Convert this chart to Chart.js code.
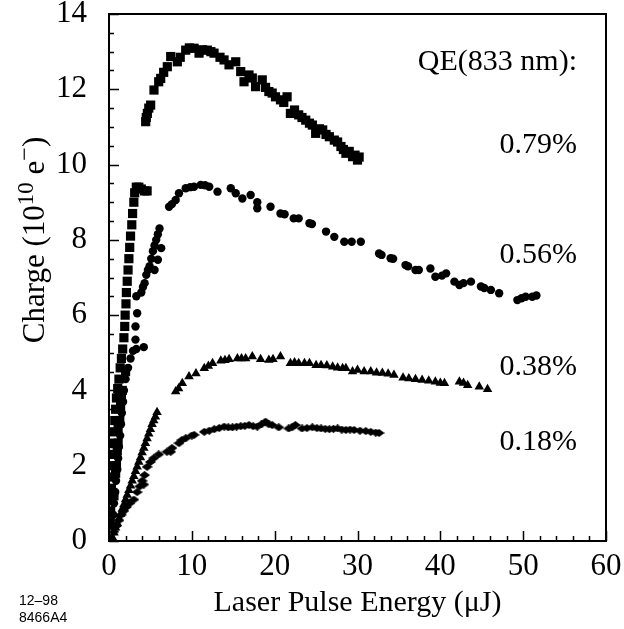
<!DOCTYPE html>
<html>
<head>
<meta charset="utf-8">
<script src="https://cdn.jsdelivr.net/npm/chart.js@4.4.1/dist/chart.umd.min.js"></script>
<style>
  html, body { margin: 0; padding: 0; background: #ffffff; }
  #wrap { width: 624px; height: 629px; position: relative; }
</style>
</head>
<body>
<div id="wrap"><canvas id="c" width="624" height="629"></canvas></div>
<script>
// ---------- data ----------
const xTickLabels = [0, 10, 20, 30, 40, 50, 60];
const yTickLabels = [0, 2, 4, 6, 8, 10, 12, 14];

// QE = 0.79 %  (squares)
const sqX = [0.15,0.2,0.25,0.3,0.35,0.4,0.5,0.55,0.65,0.7,0.8,0.9,1.05,1.2,1.35,1.5,1.65,1.8,1.9,1.95,2.05,2.1,2.2,2.3,2.4,2.5,2.6,2.75,2.85,3.0,3.1,3.3,3.6,3.9,4.3,4.6,
  0.6,0.8,1.0,1.1,1.4,1.6,2.0,0.9,1.1,1.3,1.5,1.2,
  4.43,4.5,4.63,4.8,5.03,5.43,6.0,6.24,6.6,7.04,7.45,8.25,8.6,9.26,9.7,10.27,10.87,11.3,11.87,12.3,12.68,13.4,13.89,14.49,15.3,15.9,16.3,16.9,17.3,17.7,18.5,18.9,19.3,19.7,20.1,20.7,21.1,21.5,21.9,22.4,22.9,23.3,23.75,24.2,24.55,24.95,25.4,25.8,26.2,26.6,27.2,27.6,28.0,28.3,28.6,29.0,29.4,29.7,30.0,30.2];
const sqY = [0.5,0.8,1.1,1.4,1.7,2.0,2.3,2.6,2.9,3.2,3.5,3.8,4.05,4.3,4.6,4.85,5.1,5.4,5.7,6.0,6.3,6.6,6.9,7.2,7.5,7.8,8.1,8.4,8.7,9.0,9.25,9.4,9.4,9.35,9.3,9.3,
  1.2,1.8,2.4,3.0,3.6,4.0,4.5,2.0,2.6,3.2,3.8,3.9,
  11.14,11.25,11.36,11.5,11.58,11.98,12.2,12.29,12.45,12.6,12.87,12.73,12.85,13.04,13.1,13.09,12.96,13.05,13.04,13.0,12.96,12.85,12.78,12.65,12.73,12.47,12.2,12.38,12.3,12.07,12.25,12.05,11.94,11.9,11.8,11.72,11.65,11.8,11.36,11.45,11.32,11.25,11.18,11.1,11.05,10.83,10.95,10.92,10.8,10.74,10.65,10.6,10.48,10.4,10.3,10.35,10.21,10.25,10.12,10.2];

// QE = 0.56 %  (circles)
const ciX = [0.4,0.5,0.6,0.75,0.85,1.0,1.1,1.2,1.35,1.45,1.55,1.7,1.8,2.0,2.3,2.6,2.9,3.3,4.2,3.2,3.2,3.4,3.3,
  3.9,4.1,4.3,4.5,4.7,4.9,5.1,5.3,5.5,5.7,5.9,6.1,5.5,5.9,6.3,
  7.25,7.6,8.05,8.45,9.26,9.8,10.27,11.07,11.6,12.1,13.1,14.7,15.3,16.1,17.1,17.9,17.9,19.5,20.7,21.2,22.3,22.9,24.2,24.5,26.2,27.2,28.4,29.3,30.4,32.6,32.9,34.0,34.3,35.8,36.1,37.0,37.4,38.8,39.4,40.2,40.7,41.7,42.3,42.8,43.7,44.9,45.3,46.1,47.1,49.3,49.8,50.3,51.1,51.6];
const ciY = [0.4,0.7,1.0,1.3,1.6,1.9,2.2,2.5,2.8,3.1,3.4,3.7,4.0,4.3,4.6,4.85,5.05,5.1,5.15,5.35,5.7,6.05,6.5,
  6.6,6.75,6.85,7.07,7.2,7.3,7.5,7.7,7.85,8.0,8.15,8.3,7.2,7.47,7.78,
  8.88,8.95,9.06,9.24,9.37,9.4,9.41,9.46,9.45,9.41,9.28,9.37,9.24,9.1,9.19,9.0,8.84,8.88,8.7,8.68,8.57,8.57,8.44,8.42,8.22,8.08,7.95,7.95,7.95,7.64,7.6,7.51,7.5,7.33,7.3,7.2,7.2,7.24,7.02,7.05,7.11,6.89,6.8,6.85,6.89,6.76,6.72,6.67,6.58,6.4,6.45,6.49,6.49,6.52];

// QE = 0.38 %  (triangles)
const trX = [0.4,0.6,0.8,1.0,1.2,1.4,1.6,1.8,2.0,2.2,2.4,2.6,2.8,3.0,3.2,3.4,3.6,3.8,4.0,4.2,4.4,4.6,4.8,5.0,5.2,5.4,5.6,5.8,
  8.05,8.4,8.85,9.66,10.5,11.5,12.0,12.5,13.5,14.0,14.5,15.5,16.0,16.5,17.3,18.3,19.3,19.8,20.7,21.9,22.4,22.9,23.6,24.2,25.0,25.6,26.3,27.0,27.6,28.2,28.6,29.4,30.0,30.8,31.6,32.3,33.0,33.7,34.4,35.5,36.2,37.0,37.8,38.6,39.4,40.0,40.5,42.3,42.8,43.3,44.7,45.7];
const trY = [0.1,0.22,0.35,0.47,0.6,0.72,0.85,0.97,1.1,1.22,1.35,1.47,1.6,1.72,1.85,1.97,2.1,2.22,2.35,2.47,2.6,2.72,2.85,2.97,3.1,3.2,3.3,3.42,
  3.97,4.05,4.19,4.37,4.45,4.59,4.65,4.72,4.79,4.8,4.83,4.85,4.85,4.85,4.9,4.83,4.81,4.83,4.9,4.72,4.74,4.72,4.72,4.72,4.67,4.67,4.66,4.63,4.6,4.59,4.59,4.5,4.54,4.5,4.5,4.47,4.46,4.44,4.41,4.34,4.32,4.3,4.28,4.26,4.23,4.2,4.19,4.23,4.2,4.14,4.1,4.03];

// QE = 0.18 %  (diamonds)
const diX = [0.6,0.9,1.2,1.5,1.8,2.1,2.5,3.0,3.4,3.7,4.0,4.2,4.3,4.6,5.0,5.4,6.0,7.0,7.45,7.6,8.45,8.8,9.26,10.0,10.27,11.5,12.1,12.7,13.3,13.9,14.4,14.9,15.4,15.9,16.4,16.9,17.4,17.9,18.4,18.9,19.3,19.7,20.5,21.7,22.1,22.5,23.3,23.9,24.55,25.1,25.6,26.1,26.6,27.1,27.6,28.1,28.6,29.1,29.6,30.3,31.0,31.6,32.2,32.6];
const diY = [0.25,0.4,0.55,0.7,0.8,0.9,1.0,1.1,1.3,1.45,1.6,1.5,1.75,1.97,2.1,2.2,2.3,2.37,2.37,2.47,2.6,2.68,2.73,2.8,2.82,2.9,2.93,2.97,3.0,3.04,3.02,3.02,3.04,3.05,3.06,3.08,3.05,3.04,3.1,3.17,3.1,3.08,3.02,2.99,3.02,3.08,2.99,3.0,3.02,3.0,2.99,2.98,2.97,2.98,2.99,2.96,2.95,2.96,2.95,2.93,2.92,2.9,2.88,2.87];

const qeHeader = 'QE(833 nm):';
const qeLabels = ['0.79%', '0.56%', '0.38%', '0.18%'];
const xTitle = 'Laser Pulse Energy (\u03bcJ)';
const figCode = ['12\u201398', '8466A4'];

// ---------- build ----------
const pts = (xs, ys) => xs.map((x, i) => ({ x: x, y: ys[i] }));
const SERIF = "'Liberation Serif', 'Times New Roman', serif";

// placement of annotation texts, in data units
const labelAnchorX = 56.5;
const headerAnchorY = 12.73;
const labelAnchorY = [10.52, 7.6, 4.62, 2.63];

// flattened diamond marker
const diamond = document.createElement('canvas');
diamond.width = 11; diamond.height = 8;
(function () {
  const g = diamond.getContext('2d');
  g.fillStyle = '#000';
  g.beginPath();
  g.moveTo(0, 4); g.lineTo(5.5, 0); g.lineTo(11, 4); g.lineTo(5.5, 8); g.closePath();
  g.fill();
})();

const frameAndText = {
  id: 'frameAndText',
  afterDraw(chart) {
    const ctx = chart.ctx;
    const a = chart.chartArea;
    const xs = chart.scales.x, ys = chart.scales.y;
    ctx.save();
    ctx.strokeStyle = '#000';
    ctx.lineWidth = 2;
    ctx.strokeRect(a.left, a.top, a.right - a.left, a.bottom - a.top);
    // inward ticks
    ctx.lineWidth = 1.5;
    ctx.beginPath();
    for (let v = 0; v <= 14.001; v += 0.5) {
      const py = Math.round(ys.getPixelForValue(v)) + 0.5;
      const len = (Math.abs(v / 2 - Math.round(v / 2)) < 1e-6) ? 10 : 5;
      ctx.moveTo(a.left, py); ctx.lineTo(a.left + len, py);
    }
    for (let v = 0; v <= 60.001; v += 2) {
      const px = Math.round(xs.getPixelForValue(v)) + 0.5;
      const len = (v % 10 === 0) ? 10 : 5;
      ctx.moveTo(px, a.bottom); ctx.lineTo(px, a.bottom - len);
    }
    ctx.stroke();

    // QE annotations
    ctx.fillStyle = '#000';
    ctx.font = '30px ' + SERIF;
    ctx.textAlign = 'right';
    ctx.textBaseline = 'middle';
    const lx = xs.getPixelForValue(labelAnchorX);
    ctx.fillText(qeHeader, lx, ys.getPixelForValue(headerAnchorY));
    qeLabels.forEach((t, i) => ctx.fillText(t, lx, ys.getPixelForValue(labelAnchorY[i])));

    // y-axis title with superscripts
    const parts = [
      { t: 'Charge (10', s: 31, dy: 0 },
      { t: '10', s: 23, dy: -11 },
      { t: ' e', s: 31, dy: 0 },
      { t: '\u2212', s: 24, dy: -12 },
      { t: ')', s: 31, dy: 0 }
    ];
    let total = 0;
    parts.forEach(p => { ctx.font = p.s + 'px ' + SERIF; p.w = ctx.measureText(p.t).width; total += p.w; });
    ctx.translate(34, 240);
    ctx.rotate(-Math.PI / 2);
    ctx.textAlign = 'left';
    ctx.textBaseline = 'alphabetic';
    let cx = -total / 2;
    parts.forEach(p => {
      ctx.font = p.s + 'px ' + SERIF;
      ctx.fillText(p.t, cx, 10 + p.dy);
      cx += p.w;
    });
    ctx.setTransform(1, 0, 0, 1, 0, 0);

    // figure code bottom-left
    ctx.font = "14px 'Liberation Sans', Arial, sans-serif";
    ctx.textAlign = 'left';
    ctx.textBaseline = 'middle';
    ctx.fillText(figCode[0], 19, 601);
    ctx.fillText(figCode[1], 19, 618);
    ctx.restore();
  }
};

const tickFont = { family: SERIF, size: 31, lineHeight: 0.95 };

new Chart(document.getElementById('c'), {
  type: 'scatter',
  data: {
    datasets: [
      { label: '0.79%', data: pts(sqX, sqY), pointStyle: 'rect', pointRadius: 6.5, backgroundColor: '#000', borderColor: '#000', borderWidth: 0 },
      { label: '0.56%', data: pts(ciX, ciY), pointStyle: 'circle', pointRadius: 4.2, backgroundColor: '#000', borderColor: '#000', borderWidth: 0 },
      { label: '0.38%', data: pts(trX, trY), pointStyle: 'triangle', pointRadius: 5.5, backgroundColor: '#000', borderColor: '#000', borderWidth: 0 },
      { label: '0.18%', data: pts(diX, diY), pointStyle: diamond, pointRadius: 5, backgroundColor: '#000', borderColor: '#000', borderWidth: 0 }
    ]
  },
  options: {
    responsive: false,
    animation: false,
    layout: { padding: { top: 14, right: 18, left: 0, bottom: 0 } },
    plugins: { legend: { display: false }, tooltip: { enabled: false } },
    scales: {
      x: {
        type: 'linear', position: 'bottom', min: 0, max: 60,
        afterBuildTicks: s => { s.ticks = xTickLabels.map(v => ({ value: v })); },
        ticks: { font: tickFont, color: '#000', padding: 11, maxRotation: 0 },
        grid: { display: false, drawTicks: false },
        border: { display: false },
        title: { display: true, text: xTitle, color: '#000', font: { family: SERIF, size: 30 }, padding: { top: 8, bottom: 8 } },
        afterFit: s => { s.height = 88; s.paddingLeft = 0; s.paddingRight = 0; }
      },
      y: {
        type: 'linear', position: 'left', min: 0, max: 14,
        afterBuildTicks: s => { s.ticks = yTickLabels.map(v => ({ value: v })); },
        ticks: { font: tickFont, color: '#000', padding: 22 },
        grid: { display: false, drawTicks: false },
        border: { display: false },
        afterFit: s => { s.width = 109; s.paddingTop = 0; s.paddingBottom = 0; }
      }
    }
  },
  plugins: [frameAndText]
});
</script>
</body>
</html>
